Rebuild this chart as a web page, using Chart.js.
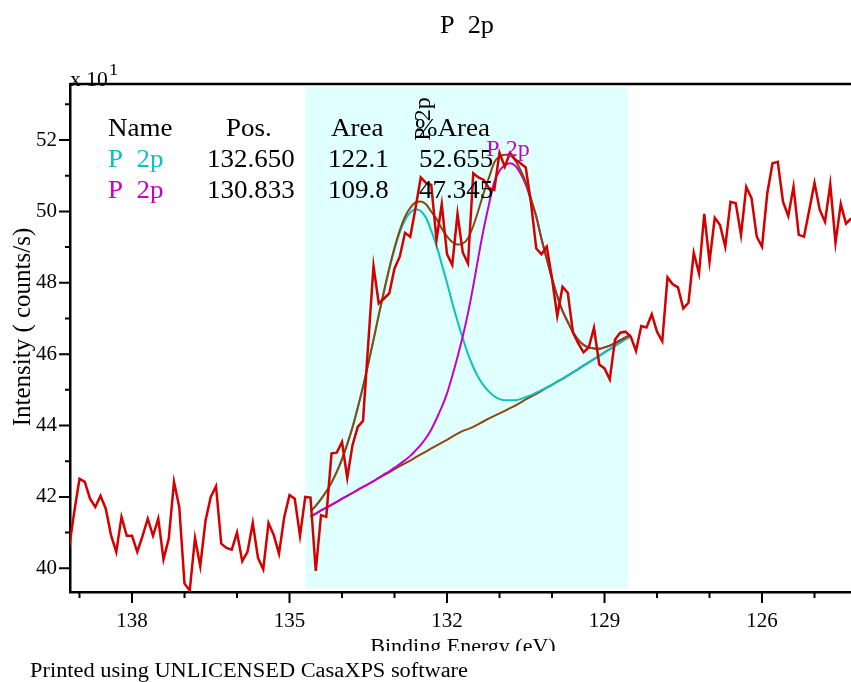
<!DOCTYPE html>
<html lang="en">
<head>
<meta charset="UTF-8">
<title>P 2p</title>
<script src="https://cdn.jsdelivr.net/npm/chart.js"></script>
<style>
  html, body { margin: 0; padding: 0; background: #fff; }
  canvas { display: block; }
</style>
</head>
<body>
<canvas id="spektrum" width="851" height="682"></canvas>
<script>
// Mæligögn (Binding Energy, skref 0.1 eV, frá 139.2 eV niður)
const eStart = 139.2;
const eStep = 0.1;
const counts = [
  40.56, 41.58, 42.51, 42.42, 41.95, 41.72, 42.03, 41.67, 40.93, 40.46,
  41.44, 40.91, 40.91, 40.46, 40.90, 41.39, 40.91, 41.39, 40.25, 40.83,
  42.42, 41.72, 39.57, 39.38, 40.85, 40.06, 41.33, 42.00, 42.30, 40.69,
  40.57, 40.52, 41.00, 40.20, 40.46, 41.27, 40.29, 39.97, 41.27, 40.93,
  40.41, 41.44, 42.05, 41.95, 40.91, 42.00, 41.98, 39.93, 41.49, 41.44,
  43.22, 43.24, 43.54, 42.53, 43.45, 43.96, 44.13, 46.30, 48.47, 47.42,
  47.56, 47.70, 48.40, 48.73, 49.40, 49.29, 50.09, 50.95, 50.80, 50.74,
  49.20, 50.20, 48.80, 48.50, 49.93, 48.85, 48.54, 51.07, 50.95, 50.88,
  50.65, 50.60, 51.64, 51.25, 51.64, 51.45, 51.35, 51.23, 50.23, 48.96,
  48.80, 49.01, 48.12, 47.07, 47.89, 47.72, 46.60, 46.30, 46.05, 46.19,
  46.74, 45.71, 45.60, 45.29, 46.41, 46.60, 46.63, 46.49, 46.09, 46.79,
  46.75, 47.12, 46.63, 46.36, 48.15, 47.96, 47.87, 47.28, 47.44, 48.84,
  48.26, 49.93, 48.59, 49.82, 49.62, 49.01, 50.27, 50.23, 49.34, 50.69,
  50.37, 49.29, 49.01, 50.50, 51.35, 51.39, 50.27, 49.87, 50.69, 49.34,
  49.29, 50.04, 50.80, 50.04, 49.71, 50.76, 49.12, 50.21, 49.66, 49.80
];

// Fit-ferlar innan svæðis (frá 134.6 eV niður í 128.5 eV)
const fitStart = 134.6;
const background = [
  41.45, 41.53, 41.62, 41.70, 41.78, 41.86, 41.95, 42.03, 42.11, 42.20,
  42.28, 42.36, 42.44, 42.53, 42.61, 42.69, 42.78, 42.86, 42.94, 43.02,
  43.11, 43.19, 43.27, 43.36, 43.44, 43.52, 43.60, 43.69, 43.77, 43.85,
  43.90, 43.96, 44.04, 44.12, 44.20, 44.27, 44.34, 44.41, 44.49, 44.56,
  44.64, 44.73, 44.81, 44.89, 44.97, 45.06, 45.14, 45.23, 45.31, 45.40,
  45.49, 45.58, 45.68, 45.77, 45.86, 45.95, 46.05, 46.14, 46.23, 46.33,
  46.42, 46.50
];
const peak1 = [
  41.60, 41.75, 41.94, 42.15, 42.40, 42.70, 43.06, 43.48, 43.95, 44.50,
  45.09, 45.73, 46.40, 47.09, 47.75, 48.38, 48.94, 49.41, 49.76, 49.97,
  50.06, 50.01, 49.82, 49.46, 49.04, 48.52, 48.00, 47.44, 46.92, 46.45,
  46.00, 45.64, 45.34, 45.12, 44.95, 44.82, 44.74, 44.71, 44.71, 44.71,
  44.74, 44.80, 44.85, 44.92, 44.99, 45.07, 45.14, 45.23, 45.31, 45.40,
  45.49, 45.58, 45.68, 45.77, 45.86, 45.95, 46.05, 46.14, 46.23, 46.33,
  46.42, 46.50
];
const peak2 = [
  41.45, 41.53, 41.62, 41.70, 41.78, 41.86, 41.95, 42.03, 42.11, 42.20,
  42.28, 42.36, 42.44, 42.54, 42.63, 42.72, 42.82, 42.92, 43.03, 43.15,
  43.30, 43.46, 43.65, 43.89, 44.19, 44.52, 44.90, 45.39, 45.92, 46.50,
  47.15, 47.91, 48.74, 49.52, 50.20, 50.82, 51.14, 51.29, 51.35, 51.28,
  51.06, 50.75, 50.31, 49.84, 49.22, 48.66, 48.12, 47.63, 47.21, 46.90,
  46.61, 46.40, 46.26, 46.19, 46.16, 46.15, 46.19, 46.24, 46.31, 46.39,
  46.47, 46.54
];
const envelope = [
  41.60, 41.75, 41.94, 42.15, 42.40, 42.70, 43.06, 43.48, 43.95, 44.50,
  45.09, 45.73, 46.40, 47.10, 47.77, 48.41, 48.98, 49.47, 49.85, 50.10,
  50.25, 50.28, 50.20, 49.99, 49.79, 49.52, 49.30, 49.14, 49.07, 49.10,
  49.25, 49.59, 50.04, 50.52, 50.95, 51.37, 51.54, 51.59, 51.57, 51.43,
  51.16, 50.82, 50.35, 49.87, 49.24, 48.67, 48.12, 47.63, 47.21, 46.90,
  46.61, 46.40, 46.26, 46.19, 46.16, 46.15, 46.19, 46.24, 46.31, 46.39,
  46.47, 46.54
];

// Svæði og ásar
const regionFrom = 134.7;
const regionTo = 128.55;
const xLow = 124.305, xHigh = 139.181;
const yLow = 39.336, yHigh = 53.569;
const xMajorTicks = [138, 135, 132, 129, 126];
const xMinorTicks = [139, 137, 136, 134, 133, 131, 130, 128, 127, 125];
const yMajorTicks = [40, 42, 44, 46, 48, 50, 52];
const yMinorTicks = [41, 43, 45, 47, 49, 51, 53];

// Tafla með toppum
const peakNames = ['P  2p', 'P  2p'];
const peakPos = ['132.650', '130.833'];
const peakArea = ['122.1', '109.8'];
const peakPct = ['52.655', '47.345'];

const RED = '#d40000', CYAN = '#10c0c0', MAGENTA = '#c800c8', BROWN = '#8b4a0c';
const SERIF = '"Liberation Serif", "Times New Roman", serif';

const toPoints = (start, vals) => vals.map((v, i) => ({ x: +(start - i * eStep).toFixed(1), y: v }));

// Texti, aðeins teygður á breiddina eins og í CasaXPS útprentun
function texti(ctx, s, x, y, align, sx) {
  ctx.save();
  ctx.translate(x, y);
  ctx.scale(sx, 1);
  ctx.textAlign = align;
  ctx.fillText(s, 0, 0);
  ctx.restore();
}

const dekor = {
  id: 'dekor',
  beforeDatasetsDraw(chart) {
    const { ctx, chartArea: a, scales: { x } } = chart;
    const x0 = x.getPixelForValue(regionFrom);
    const x1 = x.getPixelForValue(regionTo);
    ctx.save();
    ctx.fillStyle = '#e0ffff';
    ctx.fillRect(x0, a.top + 3, x1 - x0, a.bottom - a.top - 7);
    ctx.restore();
  },
  afterDraw(chart) {
    const { ctx, chartArea: a, scales: { x, y } } = chart;
    ctx.save();
    // ramminn að ofan og strik á ásum
    ctx.strokeStyle = '#000';
    ctx.lineWidth = 2.5;
    ctx.beginPath();
    ctx.moveTo(a.left, a.top);
    ctx.lineTo(a.right, a.top);
    ctx.stroke();
    ctx.lineWidth = 2;
    ctx.beginPath();
    xMajorTicks.forEach(v => { const p = x.getPixelForValue(v); ctx.moveTo(p, a.bottom); ctx.lineTo(p, a.bottom + 11); });
    xMinorTicks.forEach(v => { const p = x.getPixelForValue(v); ctx.moveTo(p, a.bottom); ctx.lineTo(p, a.bottom + 6); });
    yMajorTicks.forEach(v => { const p = y.getPixelForValue(v); ctx.moveTo(a.left, p); ctx.lineTo(a.left - 11, p); });
    yMinorTicks.forEach(v => { const p = y.getPixelForValue(v); ctx.moveTo(a.left, p); ctx.lineTo(a.left - 5, p); });
    ctx.stroke();

    ctx.fillStyle = '#000';
    ctx.textBaseline = 'alphabetic';

    // titill
    ctx.font = '25px ' + SERIF;
    texti(ctx, 'P  2p', 467, 33, 'center', 1.05);

    // x 10^1
    ctx.font = '20px ' + SERIF;
    texti(ctx, 'x 10', 70, 86, 'left', 1.08);
    ctx.font = '17px ' + SERIF;
    texti(ctx, '1', 109, 75, 'left', 1.08);

    // y-ás titill
    ctx.save();
    ctx.translate(30, 327);
    ctx.rotate(-Math.PI / 2);
    ctx.textAlign = 'center';
    ctx.font = '25px ' + SERIF;
    ctx.fillText('Intensity ( counts/s)', 0, 0);
    ctx.restore();

    // x-ás titill (skorinn að neðan)
    ctx.save();
    ctx.beginPath();
    ctx.rect(0, 620, 851, 31);
    ctx.clip();
    ctx.font = '22px ' + SERIF;
    texti(ctx, 'Binding Energy (eV)', 463, 653, 'center', 1.0);
    ctx.restore();

    ctx.font = '20px ' + SERIF;
    texti(ctx, 'Printed using UNLICENSED CasaXPS software', 30, 677, 'left', 1.12);

    // tafla
    ctx.font = '25px ' + SERIF;
    texti(ctx, 'Name', 108, 136, 'left', 1.08);
    texti(ctx, 'Pos.', 226, 136, 'left', 1.08);
    texti(ctx, 'Area', 331, 136, 'left', 1.08);
    texti(ctx, '%Area', 415, 136, 'left', 1.08);
    const rowY = [167, 198];
    const rowCol = [CYAN, MAGENTA];
    peakNames.forEach((n, i) => {
      ctx.fillStyle = rowCol[i];
      texti(ctx, n, 108, rowY[i], 'left', 1.08);
      ctx.fillStyle = '#000';
      texti(ctx, peakPos[i], 207, rowY[i], 'left', 1.08);
      texti(ctx, peakArea[i], 328, rowY[i], 'left', 1.08);
      texti(ctx, peakPct[i], 419, rowY[i], 'left', 1.08);
    });

    // merkingar toppa
    ctx.font = '24px ' + SERIF;
    ctx.fillStyle = MAGENTA;
    texti(ctx, 'P 2p', 508, 156, 'center', 1.0);
    ctx.save();
    ctx.translate(430, 119);
    ctx.rotate(-Math.PI / 2);
    ctx.fillStyle = '#000';
    ctx.textAlign = 'center';
    ctx.fillText('P 2p', 0, 0);
    ctx.restore();

    ctx.restore();
  }
};

Chart.defaults.font.family = SERIF;
Chart.defaults.color = '#000';

const linurit = new Chart(document.getElementById('spektrum'), {
  type: 'line',
  data: {
    datasets: [
      { label: 'P 2p', data: toPoints(eStart, counts), borderColor: RED, borderWidth: 2.5, pointRadius: 0, tension: 0 },
      { label: 'Envelope', data: toPoints(fitStart, envelope), borderColor: BROWN, borderWidth: 2, pointRadius: 0, cubicInterpolationMode: 'monotone' },
      { label: 'P 2p (2)', data: toPoints(fitStart, peak2), borderColor: MAGENTA, borderWidth: 2, pointRadius: 0, cubicInterpolationMode: 'monotone' },
      { label: 'P 2p (1)', data: toPoints(fitStart, peak1), borderColor: CYAN, borderWidth: 2, pointRadius: 0, cubicInterpolationMode: 'monotone' },
      { label: 'Background', data: toPoints(fitStart, background), borderColor: BROWN, borderWidth: 2, pointRadius: 0, tension: 0 }
    ]
  },
  options: {
    responsive: false,
    animation: false,
    devicePixelRatio: 1,
    layout: { padding: { top: 84, left: 0, right: 0, bottom: 0 } },
    plugins: { legend: { display: false }, title: { display: false }, tooltip: { enabled: false } },
    scales: {
      x: {
        type: 'linear',
        reverse: true,
        min: xLow,
        max: xHigh,
        grid: { display: false, drawTicks: false },
        border: { display: true, color: '#000', width: 2.5 },
        ticks: { font: { size: 21 }, padding: 17, maxRotation: 0, autoSkip: false },
        afterBuildTicks: s => { s.ticks = xMajorTicks.map(v => ({ value: v })); },
        afterFit: s => { s.height = 90; }
      },
      y: {
        min: yLow,
        max: yHigh,
        grid: { display: false, drawTicks: false },
        border: { display: true, color: '#000', width: 2.5 },
        ticks: { font: { size: 21 }, padding: 13 },
        afterBuildTicks: s => { s.ticks = yMajorTicks.map(v => ({ value: v })); },
        afterFit: s => { s.width = 70; }
      }
    }
  },
  plugins: [dekor]
});
</script>
</body>
</html>
